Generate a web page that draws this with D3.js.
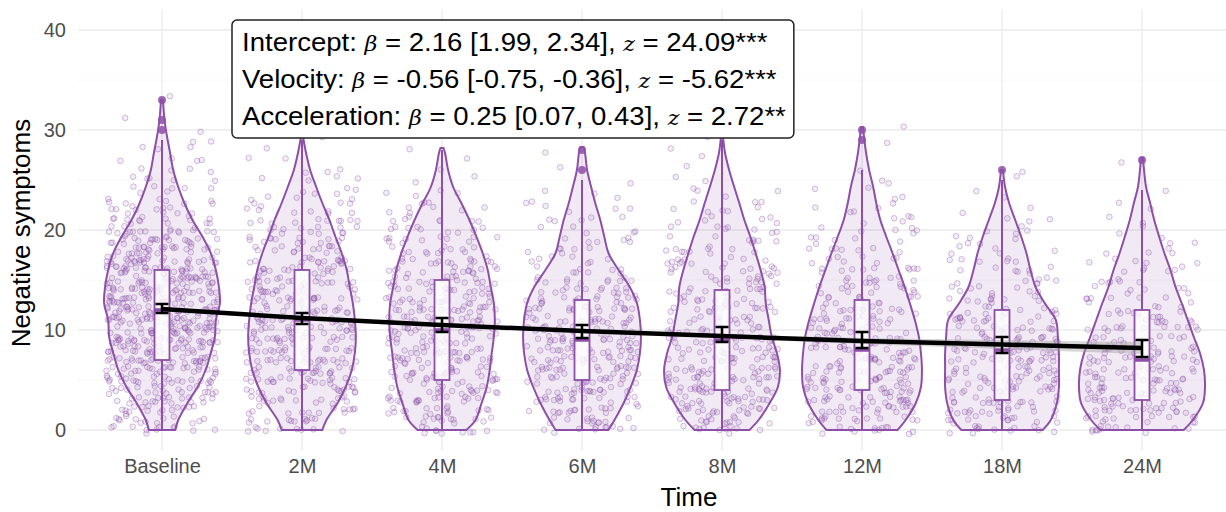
<!DOCTYPE html>
<html>
<head>
<meta charset="utf-8">
<script src="https://cdn.jsdelivr.net/npm/d3@7"></script>
<style>
  html, body { margin: 0; padding: 0; background: #fff; }
  svg { display: block; font-family: "Liberation Sans", Arial, Helvetica, sans-serif; }
</style>
</head>
<body>
<div id="chart"></div>
<script>
// ---- data ----
const categories = ["Baseline", "2M", "4M", "6M", "8M", "12M", "18M", "24M"];
const yTicks = [0, 10, 20, 30, 40];
const yMinor = [5, 15, 25, 35];

// number of participants at each score (index = score), per wave
const scoreCounts = [
  [11,13,15,18,21,24,26,28,29,31,32,34,35,35,35,34,32,29,25,21,17,14,11,8,7,5,4,4,3,2,1,1,0,1],
  [9,11,13,16,18,19,20,20,20,20,20,20,19,19,18,18,17,16,14,13,12,10,8,7,5,4,3,2,1,1],
  [10,13,15,17,18,19,19,20,20,20,20,20,19,19,18,17,16,14,12,11,9,7,6,4,3,2,1,1,1],
  [10,12,14,17,18,19,20,20,20,20,19,19,18,16,13,11,8,7,6,6,5,5,4,3,2,1,1,0,1],
  [10,13,17,19,20,19,18,17,16,16,16,14,14,14,13,13,12,11,10,8,7,6,5,4,3,2,1,1,1,1],
  [12,15,18,19,19,19,19,18,18,17,17,16,14,13,12,11,10,8,7,6,6,5,4,3,2,2,1,0,0,1,1],
  [12,14,16,17,17,17,17,17,17,16,16,14,12,10,8,7,7,6,5,5,4,3,2,1,1,1,1],
  [12,14,17,18,18,17,17,16,14,13,12,11,10,8,7,6,6,5,4,3,2,2,1,1,1,0,0,1]
];

// violin outlines: [score, relative density]
const violinProfiles = [
  [[0,13],[1,16],[2.7,25],[4.3,35],[6,43],[7.7,48],[9.3,52],[11,53],[12.7,57],[14.3,56],[16,53],[17.7,48],[19.3,40],[21,30],[22.7,22],[24.3,16],[26,11],[27.7,8],[29.3,5],[31,2.5],[33,1]],
  [[0,20],[1,24],[2.7,35],[4.3,43],[6,49],[7.7,52],[9.3,53],[11,52],[12.7,50],[14.3,47],[16,44],[17.7,39],[19.3,33],[21,27],[22.7,20],[24.3,14],[26,8],[27.7,4],[29.3,1]],
  [[0,24],[1,33],[2.7,39],[4.3,44],[6,47],[7.7,49],[9.3,51],[11,52],[12.7,51],[14.3,48],[16,45],[17.7,40],[19.3,34],[21,27],[22.7,19],[24.3,11],[26,6],[27.7,3],[28.2,1.5]],
  [[0,26],[1,32],[2.7,41],[4.3,48],[6,54],[7.7,57],[9.3,58],[11,57],[12.7,54],[14.3,47],[16,36],[17.7,26],[19.3,22],[21,18],[22.7,13],[24.3,9],[26,5],[27.7,3],[28.3,1.5]],
  [[0,27],[1,36],[2.7,47],[4.3,55],[6,57],[7.7,54],[9.3,49],[11,46],[12.7,43],[14.3,42],[16,38],[17.7,33],[19.3,28],[21,22],[22.7,17],[24.3,12],[26,7],[27.7,3],[29.3,1]],
  [[0,35],[1,43],[2.7,53],[4.3,58],[6,59],[7.7,58],[9.3,56],[11,52],[12.7,47],[14.3,42],[16,36],[17.7,30],[19.3,24],[21,18],[22.7,14],[24.3,11],[26,7],[27.7,4],[29.3,2],[30.3,1]],
  [[0,40],[1,48],[2.7,54],[4.3,56],[6,56],[7.7,56],[9.3,55],[11,53],[12.7,42],[14.3,33],[16,28],[17.7,24],[19.3,19],[21,13],[22.7,7],[24.3,3],[26,1]],
  [[0,41],[1,50],[2.7,60],[4.3,62],[6,61],[7.7,57],[9.3,51],[11,45],[12.7,39],[14.3,33],[16,28],[17.7,22],[19.3,17],[21,12],[22.7,8],[24.3,4],[26,2],[27.2,1]]
];

// boxplot statistics
const boxQ1 = [7, 6, 5, 5, 4, 4, 3, 3];
const boxMedian = [12, 11, 10, 9, 9, 8, 8, 7];
const boxQ3 = [16, 16, 15, 13, 14, 13, 12, 12];
const whiskerLow = [0, 0, 0, 0, 0, 0, 0, 0];
const whiskerHigh = [29, 29, 28, 25, 29, 26, 25, 24];
const outliers = [[30, 31, 33], [], [], [26, 28], [], [29, 30], [26], [27]];

// growth curve fit and mean CIs
const fitValues = [12.1, 11.2, 10.5, 9.9, 9.4, 8.9, 8.55, 8.2];
const fitLow = [11.9, 11.05, 10.35, 9.75, 9.2, 8.6, 8.1, 7.6];
const fitHigh = [12.3, 11.35, 10.65, 10.05, 9.6, 9.2, 9.0, 8.8];
const meanLow = [11.7, 10.6, 9.8, 9.2, 8.8, 8.2, 7.7, 7.3];
const meanHigh = [12.6, 11.7, 11.2, 10.5, 10.3, 9.8, 9.3, 9.0];

const annotationLines = [
  ["Intercept: ", "β", " = 2.16 [1.99, 2.34], ", "z", " = 24.09***"],
  ["Velocity: ", "β", " = -0.56 [-0.75, -0.36], ", "z", " = -5.62***"],
  ["Acceleration: ", "β", " = 0.25 [0.07, 0.43], ", "z", " = 2.72**"]
];

// ---- drawing ----
const W = 1226, H = 512;
const margin = { top: 10, right: 0, bottom: 62, left: 78 };
const purple = "#8E4FA8";

const svg = d3.select("#chart").append("svg")
  .attr("width", W).attr("height", H);

const x = d3.scalePoint()
  .domain(categories)
  .range([margin.left, W - margin.right])
  .padding(0.6);
const step = x.step();

const y = d3.scaleLinear()
  .domain([-2, 42])
  .range([H - margin.bottom, margin.top]);

const maxDensity = d3.max(violinProfiles.flat(), d => d[1]);
const wScale = d3.scaleLinear().domain([0, maxDensity]).range([0, 0.45 * step]);

// Grid
const grid = svg.append("g");
grid.selectAll(".minor").data(yMinor).join("line")
  .attr("x1", margin.left).attr("x2", W - margin.right)
  .attr("y1", d => y(d)).attr("y2", d => y(d))
  .attr("stroke", "#f4f4f4").attr("stroke-width", 0.8);
grid.selectAll(".major").data(yTicks).join("line")
  .attr("x1", margin.left).attr("x2", W - margin.right)
  .attr("y1", d => y(d)).attr("y2", d => y(d))
  .attr("stroke", "#ebebeb").attr("stroke-width", 1.3);
grid.selectAll(".vgrid").data(categories).join("line")
  .attr("x1", d => x(d)).attr("x2", d => x(d))
  .attr("y1", margin.top).attr("y2", H - margin.bottom)
  .attr("stroke", "#ebebeb").attr("stroke-width", 1.3);

// Axes
svg.append("g")
  .attr("transform", `translate(${margin.left},0)`)
  .call(d3.axisLeft(y).tickValues(yTicks).tickSize(0).tickPadding(12))
  .call(g => g.select(".domain").remove())
  .call(g => g.selectAll("text").attr("fill", "#4d4d4d")
    .style("font-size", "20px").style("font-family", "Liberation Sans, Arial, sans-serif"));

svg.append("g")
  .attr("transform", `translate(0,${H - margin.bottom})`)
  .call(d3.axisBottom(x).tickSize(0).tickPadding(9))
  .call(g => g.select(".domain").remove())
  .call(g => g.selectAll("text").attr("fill", "#4d4d4d")
    .style("font-size", "20px").style("font-family", "Liberation Sans, Arial, sans-serif"));

svg.append("text")
  .attr("x", (margin.left + W - margin.right) / 2 + 37)
  .attr("y", 506)
  .attr("text-anchor", "middle")
  .style("font-size", "26px")
  .text("Time");

svg.append("text")
  .attr("transform", `translate(30,${y(20) + 3}) rotate(-90)`)
  .attr("text-anchor", "middle")
  .style("font-size", "26px")
  .text("Negative symptoms");

// Violins
const violinArea = (cx) => d3.area()
  .y(d => y(d[0]))
  .x0(d => cx - wScale(d[1]))
  .x1(d => cx + wScale(d[1]))
  .curve(d3.curveCatmullRom);

svg.append("g").selectAll("path")
  .data(violinProfiles)
  .join("path")
  .attr("d", (d, i) => violinArea(x(categories[i]))(d))
  .attr("fill", purple).attr("fill-opacity", 0.12)
  .attr("stroke", purple).attr("stroke-width", 2);

// Jittered points (fixed seed so the layout is stable)
const rnd = d3.randomLcg(7);
const points = [];
scoreCounts.forEach((counts, i) => {
  counts.forEach((n, score) => {
    for (let k = 0; k < n; k++) {
      points.push({
        cx: x(categories[i]) + (rnd() * 2 - 1) * 0.4 * step,
        v: score + (rnd() * 2 - 1) * 0.4
      });
    }
  });
});
svg.append("g").selectAll("circle")
  .data(points)
  .join("circle")
  .attr("cx", d => d.cx)
  .attr("cy", d => y(d.v))
  .attr("r", 2.8)
  .attr("fill", purple).attr("fill-opacity", 0.1)
  .attr("stroke", purple).attr("stroke-opacity", 0.36).attr("stroke-width", 1);

// Boxplots
const boxW = 15;
const boxes = svg.append("g");
categories.forEach((c, i) => {
  const cx = x(c);
  const g = boxes.append("g");
  g.append("line")
    .attr("x1", cx).attr("x2", cx)
    .attr("y1", y(boxQ3[i])).attr("y2", y(whiskerHigh[i]))
    .attr("stroke", purple).attr("stroke-width", 2);
  g.append("line")
    .attr("x1", cx).attr("x2", cx)
    .attr("y1", y(boxQ1[i])).attr("y2", y(whiskerLow[i]))
    .attr("stroke", purple).attr("stroke-width", 2);
  g.append("rect")
    .attr("x", cx - boxW / 2).attr("width", boxW)
    .attr("y", y(boxQ3[i])).attr("height", y(boxQ1[i]) - y(boxQ3[i]))
    .attr("fill", "#fff").attr("fill-opacity", 0.8)
    .attr("stroke", purple).attr("stroke-width", 1.8);
  g.append("line")
    .attr("x1", cx - boxW / 2).attr("x2", cx + boxW / 2)
    .attr("y1", y(boxMedian[i])).attr("y2", y(boxMedian[i]))
    .attr("stroke", purple).attr("stroke-width", 3.5);
  g.selectAll("circle").data(outliers[i]).join("circle")
    .attr("cx", cx).attr("cy", d => y(d)).attr("r", 4)
    .attr("fill", purple).attr("fill-opacity", 0.85);
});

// Fit ribbon and line
const idx = d3.range(categories.length);
svg.append("path")
  .datum(idx)
  .attr("d", d3.area()
    .x(i => x(categories[i]))
    .y0(i => y(fitLow[i]))
    .y1(i => y(fitHigh[i]))
    .curve(d3.curveMonotoneX))
  .attr("fill", "#999").attr("fill-opacity", 0.4);

svg.append("path")
  .datum(idx)
  .attr("d", d3.line()
    .x(i => x(categories[i]))
    .y(i => y(fitValues[i]))
    .curve(d3.curveMonotoneX))
  .attr("fill", "none").attr("stroke", "#000").attr("stroke-width", 4.5);

// Error bars
const capW = 13;
const eb = svg.append("g").attr("stroke", "#000").attr("stroke-width", 2.5);
idx.forEach(i => {
  const cx = x(categories[i]);
  eb.append("line").attr("x1", cx).attr("x2", cx)
    .attr("y1", y(meanLow[i])).attr("y2", y(meanHigh[i]));
  eb.append("line").attr("x1", cx - capW / 2).attr("x2", cx + capW / 2)
    .attr("y1", y(meanLow[i])).attr("y2", y(meanLow[i]));
  eb.append("line").attr("x1", cx - capW / 2).attr("x2", cx + capW / 2)
    .attr("y1", y(meanHigh[i])).attr("y2", y(meanHigh[i]));
});

// Annotation label
const ann = svg.append("g");
const annBox = ann.append("rect")
  .attr("x", 232).attr("y", 20).attr("rx", 5)
  .attr("fill", "#fff").attr("stroke", "#222").attr("stroke-width", 1.5);
const annText = ann.append("text")
  .style("font-size", "26px").attr("fill", "#000")
  .attr("transform", "translate(242,0) scale(1.06,1)");
annotationLines.forEach((parts, li) => {
  parts.forEach((p, pi) => {
    const t = annText.append("tspan").text(p);
    if (pi === 0) t.attr("x", 0).attr("y", 51 + li * 37);
    if (p === "β" || p === "z") {
      t.style("font-style", "italic").style("font-family", "DejaVu Serif, serif").style("font-size", "21px");
    }
  });
});
const bb = annText.node().getBBox();
annBox.attr("width", bb.width * 1.06 + 18).attr("height", 118);
</script>
</body>
</html>
